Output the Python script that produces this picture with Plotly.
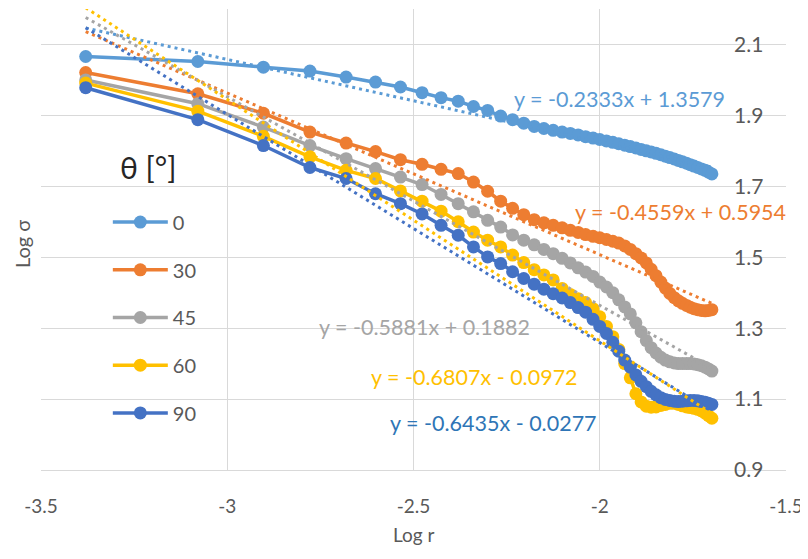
import plotly.graph_objects as go

# ---- data ----
log_r = [-3.380, -3.079, -2.903, -2.778, -2.681, -2.602, -2.535, -2.477, -2.426, -2.380,
         -2.339, -2.301, -2.266, -2.234, -2.204, -2.176, -2.150, -2.125, -2.101, -2.079,
         -2.058, -2.038, -2.018, -2.000, -1.982, -1.965, -1.949, -1.933, -1.918, -1.903,
         -1.889, -1.875, -1.862, -1.849, -1.836, -1.824, -1.812, -1.800, -1.789, -1.778,
         -1.767, -1.757, -1.747, -1.737, -1.727, -1.717, -1.708, -1.699]

theta_labels = ["0", "30", "45", "60", "90"]

sigma_0 = [2.066, 2.052, 2.036, 2.025, 2.008, 1.994, 1.980, 1.964, 1.950, 1.940,
           1.925, 1.914, 1.898, 1.888, 1.878, 1.869, 1.863, 1.858, 1.853, 1.849,
           1.845, 1.840, 1.836, 1.832, 1.828, 1.824, 1.820, 1.816, 1.812, 1.808,
           1.804, 1.800, 1.797, 1.793, 1.789, 1.785, 1.781, 1.777, 1.773, 1.769,
           1.765, 1.761, 1.757, 1.753, 1.749, 1.745, 1.740, 1.735]
sigma_30 = [2.021, 1.961, 1.906, 1.853, 1.822, 1.798, 1.775, 1.762, 1.748, 1.736,
            1.712, 1.686, 1.658, 1.638, 1.620, 1.606, 1.597, 1.590, 1.583, 1.576,
            1.570, 1.564, 1.559, 1.555, 1.550, 1.545, 1.540, 1.532, 1.522, 1.510,
            1.498, 1.484, 1.466, 1.448, 1.430, 1.413, 1.398, 1.386, 1.377, 1.370,
            1.364, 1.359, 1.355, 1.352, 1.350, 1.349, 1.350, 1.352]
sigma_45 = [2.000, 1.933, 1.867, 1.815, 1.778, 1.750, 1.726, 1.705, 1.677, 1.651,
            1.628, 1.604, 1.585, 1.563, 1.548, 1.535, 1.522, 1.510, 1.497, 1.484,
            1.470, 1.458, 1.446, 1.430, 1.416, 1.400, 1.380, 1.360, 1.340, 1.315,
            1.290, 1.265, 1.245, 1.230, 1.218, 1.210, 1.205, 1.202, 1.200, 1.200,
            1.200, 1.200, 1.199, 1.197, 1.194, 1.190, 1.185, 1.179]
sigma_60 = [1.991, 1.912, 1.841, 1.783, 1.745, 1.722, 1.687, 1.658, 1.630, 1.600,
            1.571, 1.548, 1.529, 1.506, 1.485, 1.465, 1.450, 1.436, 1.412, 1.395,
            1.383, 1.372, 1.355, 1.332, 1.305, 1.276, 1.240, 1.200, 1.160, 1.115,
            1.092, 1.080, 1.077, 1.078, 1.082, 1.085, 1.088, 1.088, 1.085, 1.081,
            1.078, 1.076, 1.074, 1.071, 1.067, 1.060, 1.053, 1.046]
sigma_90 = [1.978, 1.888, 1.815, 1.753, 1.722, 1.679, 1.651, 1.622, 1.590, 1.562,
            1.529, 1.501, 1.482, 1.459, 1.440, 1.424, 1.410, 1.397, 1.385, 1.372,
            1.358, 1.345, 1.325, 1.305, 1.285, 1.260, 1.235, 1.210, 1.190, 1.168,
            1.150, 1.135, 1.122, 1.112, 1.104, 1.099, 1.096, 1.094, 1.093, 1.094,
            1.095, 1.096, 1.096, 1.095, 1.093, 1.091, 1.088, 1.085]

trend_slope = [-0.2333, -0.4559, -0.5881, -0.6807, -0.6435]
trend_intercept = [1.3579, 0.5954, 0.1882, -0.0972, -0.0277]
equation_text = ["y = -0.2333x + 1.3579", "y = -0.4559x + 0.5954", "y = -0.5881x + 0.1882",
                 "y = -0.6807x - 0.0972", "y = -0.6435x - 0.0277"]
equation_x = [-1.948, -1.782, -2.470, -2.337, -2.284]
equation_y = [1.945, 1.627, 1.303, 1.162, 1.032]

x_ticks = [-3.5, -3, -2.5, -2, -1.5]
y_ticks = [0.9, 1.1, 1.3, 1.5, 1.7, 1.9, 2.1]

series = [sigma_0, sigma_30, sigma_45, sigma_60, sigma_90]
colors = ["#5B9BD5", "#ED7D31", "#A5A5A5", "#FFC000", "#4472C4"]
eq_colors = ["#5B9BD5", "#ED7D31", "#A5A5A5", "#FFC000", "#2E75B6"]

FONT = "Lato"
TXT = "#595959"

fig = go.Figure()
for i, (lab, ys) in enumerate(zip(theta_labels, series)):
    fig.add_trace(go.Scatter(
        x=log_r, y=ys, mode="lines+markers", name=lab,
        legendgroup=lab,
        line=dict(color=colors[i], width=3.5),
        marker=dict(color=colors[i], size=13),
    ))

for i in range(len(series)):
    x0, x1 = min(log_r), max(log_r)
    fig.add_trace(go.Scatter(
        x=[x0, x1],
        y=[trend_slope[i] * x0 + trend_intercept[i], trend_slope[i] * x1 + trend_intercept[i]],
        mode="lines", showlegend=False, hoverinfo="skip",
        line=dict(color=colors[i], width=3, dash="3px,4px"),
    ))

for i in range(len(series)):
    fig.add_annotation(x=equation_x[i], y=equation_y[i], text=equation_text[i],
                       showarrow=False, xref="x", yref="y",
                       font=dict(family=FONT, size=21.5, color=eq_colors[i]))

# legend heading, axis titles
fig.add_annotation(text="θ [°]", x=0.143, y=0.657, xref="paper", yref="paper",
                   xanchor="center", yanchor="middle", showarrow=False,
                   font=dict(family=FONT, size=30, color="#262626"))
fig.add_annotation(text="Log σ", x=-0.0255, y=0.49, xref="paper", yref="paper",
                   xanchor="center", yanchor="middle",
                   showarrow=False, textangle=-90,
                   font=dict(family=FONT, size=20, color=TXT))
fig.add_annotation(text="Log r", x=0.5, y=-0.139, xref="paper", yref="paper",
                   xanchor="center", yanchor="middle", showarrow=False,
                   font=dict(family=FONT, size=19, color=TXT))

# the page body has an 8px margin, so the figure is sized/offset to compensate
fig.update_layout(
    width=800, height=551,
    margin=dict(l=33, r=22, t=1, b=89, autoexpand=False),
    paper_bgcolor="white", plot_bgcolor="white",
    font=dict(family=FONT, size=19, color=TXT),
    showlegend=True,
    legend=dict(
        x=0.0897, y=0.580, xanchor="left", yanchor="top",
        bgcolor="rgba(255,255,255,0)",
        font=dict(family=FONT, size=20, color=TXT),
        itemwidth=55, tracegroupgap=18.7,
    ),
    xaxis=dict(
        range=[-3.5, -1.5], tickvals=x_ticks, ticktext=["-3.5", "-3", "-2.5", "-2", "-1.5"],
        showgrid=True, gridcolor="#D9D9D9", gridwidth=1, automargin=False,
        zeroline=False, showline=True, linecolor="#D9D9D9", linewidth=1,
        ticks="", ticklabelstandoff=19, ticklabeloverflow="allow",
        tickfont=dict(family=FONT, size=19, color=TXT),
    ),
    yaxis=dict(
        range=[0.9, 2.2], tickvals=y_ticks, ticktext=[f"{v:.1f}" for v in y_ticks],
        side="right", anchor="free", position=0.929,
        showgrid=True, gridcolor="#D9D9D9", gridwidth=1, automargin=False,
        zeroline=False, showline=False, ticks="", ticklabeloverflow="allow",
        tickfont=dict(family=FONT, size=21, color=TXT),
    ),
)

fig.write_html("out.html")
